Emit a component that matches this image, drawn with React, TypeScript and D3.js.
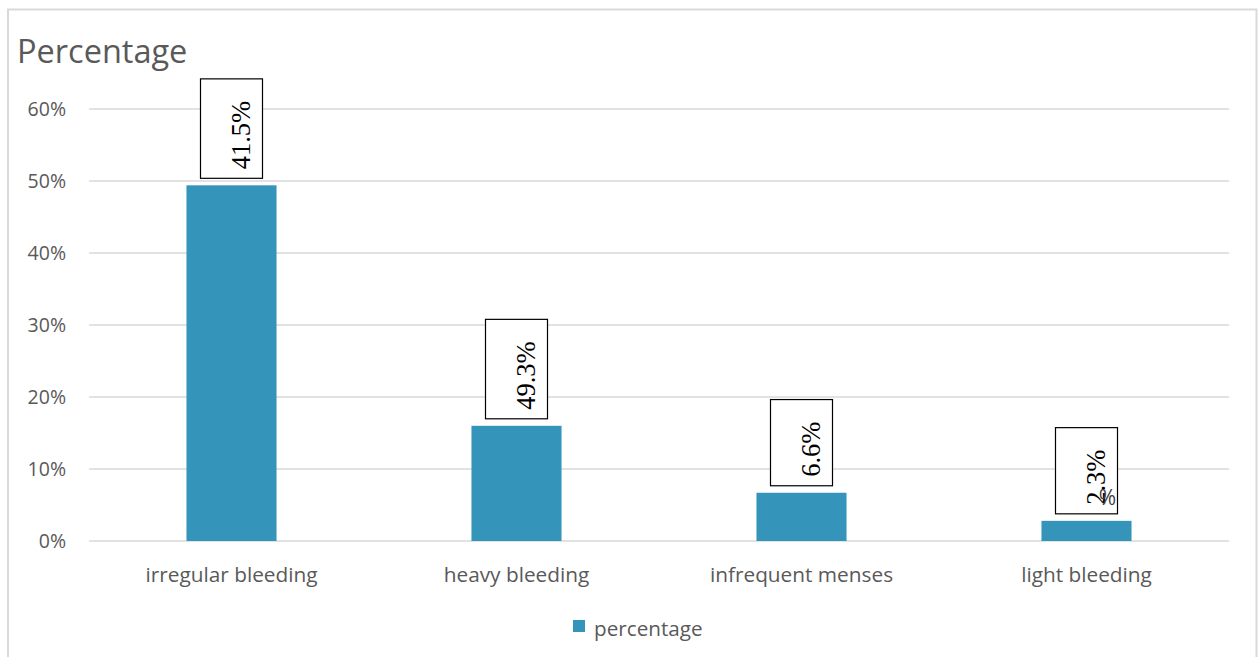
import React from "react";
import * as d3 from "d3";

// chart data
const categories = ["irregular bleeding", "heavy bleeding", "infrequent menses", "light bleeding"];
const percentValues = [49.4, 16.0, 6.7, 2.8];
const labelTexts = ["41.5%", "49.3%", "6.6%", "2.3%"];
const yTicks = [0, 10, 20, 30, 40, 50, 60];
const seriesName = "percentage";

const W = 1258;
const H = 657;
const BAR = "#3494ba";
const GRID = "#d9d9d9";
const TEXT = "#595959";
const SANS = "'Open Sans', 'DejaVu Sans', sans-serif";
const SERIF = "'Liberation Serif', 'DejaVu Serif', serif";

const App: React.FC = () => {
  const plot = { left: 89, right: 1229, top: 109, bottom: 541 };

  const x = d3
    .scaleBand<string>()
    .domain(categories)
    .range([plot.left, plot.right])
    .paddingInner(0.684)
    .paddingOuter(0.342);

  const y = d3.scaleLinear().domain([0, 60]).range([plot.bottom, plot.top]);

  const labelFont = 26.5;
  // rough char widths (em) of Liberation Serif for box sizing
  const textLen = (s: string) =>
    s.split("").reduce((acc, c) => acc + (c === "%" ? 0.833 : c === "." ? 0.25 : 0.5), 0) * labelFont;

  return (
    <svg
      width={W}
      height={H}
      style={{ position: "absolute", left: 0, top: 0, display: "block" }}
    >
      <rect x={0} y={0} width={W} height={H} fill="#ffffff" />
      {/* chart area border */}
      <rect x={8} y={9.5} width={1248.5} height={H} fill="none" stroke={GRID} strokeWidth={2} />

      <text x={17} y={63} fontFamily={SANS} fontSize={32.5} fill={TEXT}>
        Percentage
      </text>

      {/* gridlines + y tick labels */}
      {yTicks.map((t) => (
        <g key={t}>
          <line x1={plot.left} x2={plot.right} y1={y(t)} y2={y(t)} stroke={GRID} strokeWidth={1.5} />
          <text
            x={66}
            y={y(t) + 7}
            textAnchor="end"
            fontFamily={SANS}
            fontSize={19.5}
            fill={TEXT}
          >
            {t}%
          </text>
        </g>
      ))}

      {/* bars */}
      {categories.map((c, i) => (
        <rect
          key={c}
          x={x(c)}
          y={y(percentValues[i])}
          width={x.bandwidth()}
          height={y(0) - y(percentValues[i])}
          fill={BAR}
        />
      ))}

      {/* boxed data labels, rotated */}
      {categories.map((c, i) => {
        const cx = (x(c) ?? 0) + x.bandwidth() / 2;
        const len = textLen(labelTexts[i]);
        const boxH = len + 31;
        const boxW = 62;
        const bottom = y(percentValues[i]) - 7;
        const tx = cx + 18;
        const ty = bottom - 9;
        return (
          <g key={c}>
            <rect
              x={cx - boxW / 2}
              y={bottom - boxH}
              width={boxW}
              height={boxH}
              fill="#ffffff"
              stroke="#000000"
              strokeWidth={1.2}
            />
            <text
              transform={`translate(${tx},${ty}) rotate(-90)`}
              fontFamily={SERIF}
              fontSize={labelFont}
              fill="#000000"
            >
              {labelTexts[i]}
            </text>
            {i === categories.length - 1 && (
              <text x={cx + 21} y={bottom - 9} textAnchor="middle" fontFamily={SANS} fontSize={21} fill="#404040">
                %
              </text>
            )}
          </g>
        );
      })}

      {/* category labels */}
      {categories.map((c) => (
        <text
          key={c}
          x={(x(c) ?? 0) + x.bandwidth() / 2}
          y={582}
          textAnchor="middle"
          fontFamily={SANS}
          fontSize={20.8}
          fill={TEXT}
        >
          {c}
        </text>
      ))}

      {/* legend */}
      <rect x={573} y={620} width={12} height={12} fill={BAR} />
      <text x={594} y={636} fontFamily={SANS} fontSize={20.7} fill={TEXT}>
        {seriesName}
      </text>
    </svg>
  );
};

export default App;
